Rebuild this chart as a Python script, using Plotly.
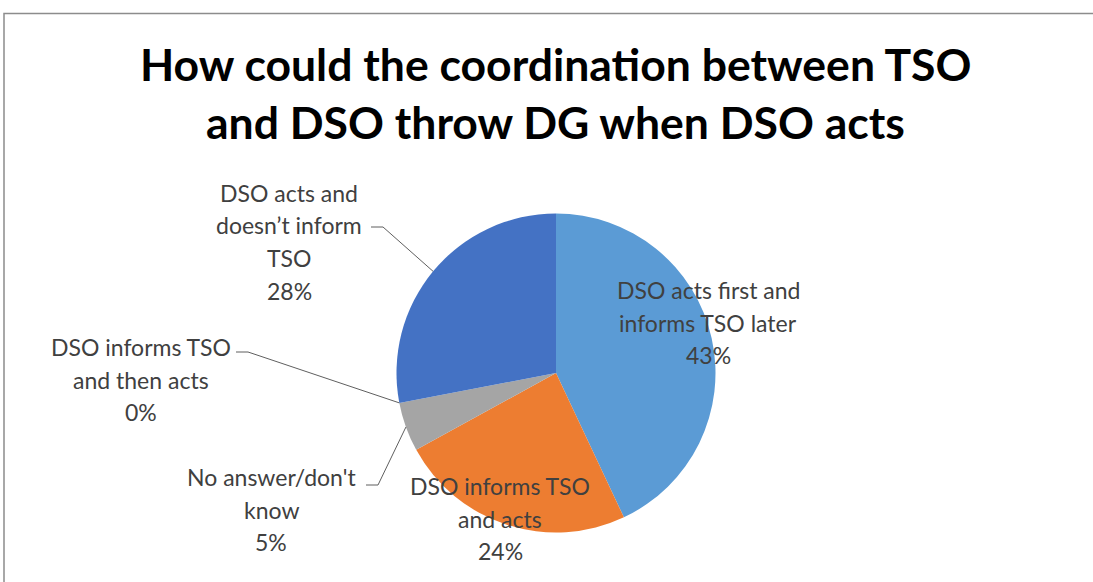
import math
import plotly.graph_objects as go

# ---- data ----
categories = [
    "DSO acts first and informs TSO later",
    "DSO informs TSO and acts",
    "No answer/don't know",
    "DSO informs TSO and then acts",
    "DSO acts and doesn’t inform TSO",
]
values = [43, 24, 5, 0, 28]
pct_labels = ["43%", "24%", "5%", "0%", "28%"]
label_lines = [
    ["DSO acts first and", "informs TSO later"],
    ["DSO informs TSO", "and acts"],
    ["No answer/don't", "know"],
    ["DSO informs TSO", "and then acts"],
    ["DSO acts and", "doesn’t inform", "TSO"],
]
colors = ["#5B9BD5", "#ED7D31", "#A5A5A5", "#FFC000", "#4472C4"]
title_lines = ["How could the coordination between TSO", "and DSO throw DG when DSO acts"]

# ---- layout geometry (pixels) ----
W, H = 1093, 582
CX, CY, R = 556, 373, 159.5
FONT = "Lato"
TXT = "#404040"
LINE_H = 32.5

def px(x):
    return x / W

def py(y):
    return 1 - y / H

# label block: first-line centre (x, y) in pixels
label_pos = [(708, 290), (500, 486), (271, 477), (141, 347), (289, 193)]
# leader: start point of horizontal tick (pixels) for outside labels
leaders = {2: (366, 485), 3: (236, 352), 4: (371, 227)}

fig = go.Figure(go.Pie(
    labels=categories,
    values=values,
    sort=False,
    direction="clockwise",
    rotation=0,
    marker=dict(colors=colors, line=dict(width=0)),
    textinfo="none",
    hoverinfo="label+percent",
    showlegend=False,
    domain=dict(x=[px(CX - R), px(CX + R)], y=[py(CY + R), py(CY - R)]),
))

annotations = []
for i, t in enumerate(title_lines):
    annotations.append(dict(
        text="<b>" + t + "</b>", x=px(W / 2 + 9), y=py(63 + i * 58),
        xref="paper", yref="paper", xanchor="center", yanchor="middle",
        showarrow=False, font=dict(family=FONT, size=44.5, color="#000000")))

for i in range(len(values)):
    lx, ly = label_pos[i]
    lines = label_lines[i] + [pct_labels[i]]
    for j, ln in enumerate(lines):
        annotations.append(dict(
            text=ln, x=px(lx), y=py(ly + j * LINE_H),
            xref="paper", yref="paper", xanchor="center", yanchor="middle",
            showarrow=False, font=dict(family=FONT, size=23, color=TXT)))

shapes = []
total = sum(values)
cum = 0
mids = []
for v in values:
    mids.append((cum + v / 2) / total)
    cum += v
for i, (sx, sy) in leaders.items():
    th = 2 * math.pi * mids[i]
    ex = CX + R * math.sin(th)
    ey = CY - R * math.cos(th)
    mx = sx + 12
    path = f"M {px(sx)},{py(sy)} L {px(mx)},{py(sy)} L {px(ex)},{py(ey)}"
    shapes.append(dict(type="path", xref="paper", yref="paper", path=path,
                       line=dict(color="#5f5f5f", width=1)))

# chart frame
shapes.append(dict(type="rect", xref="paper", yref="paper",
                   x0=px(4), x1=px(W + 20), y0=py(H + 20), y1=py(13.5),
                   line=dict(color="#8c8c8c", width=1.5), fillcolor="rgba(0,0,0,0)"))

fig.update_layout(
    width=W, height=H,
    margin=dict(l=0, r=0, t=0, b=0),
    paper_bgcolor="white", plot_bgcolor="white",
    annotations=annotations, shapes=shapes,
    font=dict(family=FONT),
)

fig.write_html("out.html",
               config={"displayModeBar": False},
               post_script="document.body.style.margin='0';document.body.style.overflow='hidden';")
